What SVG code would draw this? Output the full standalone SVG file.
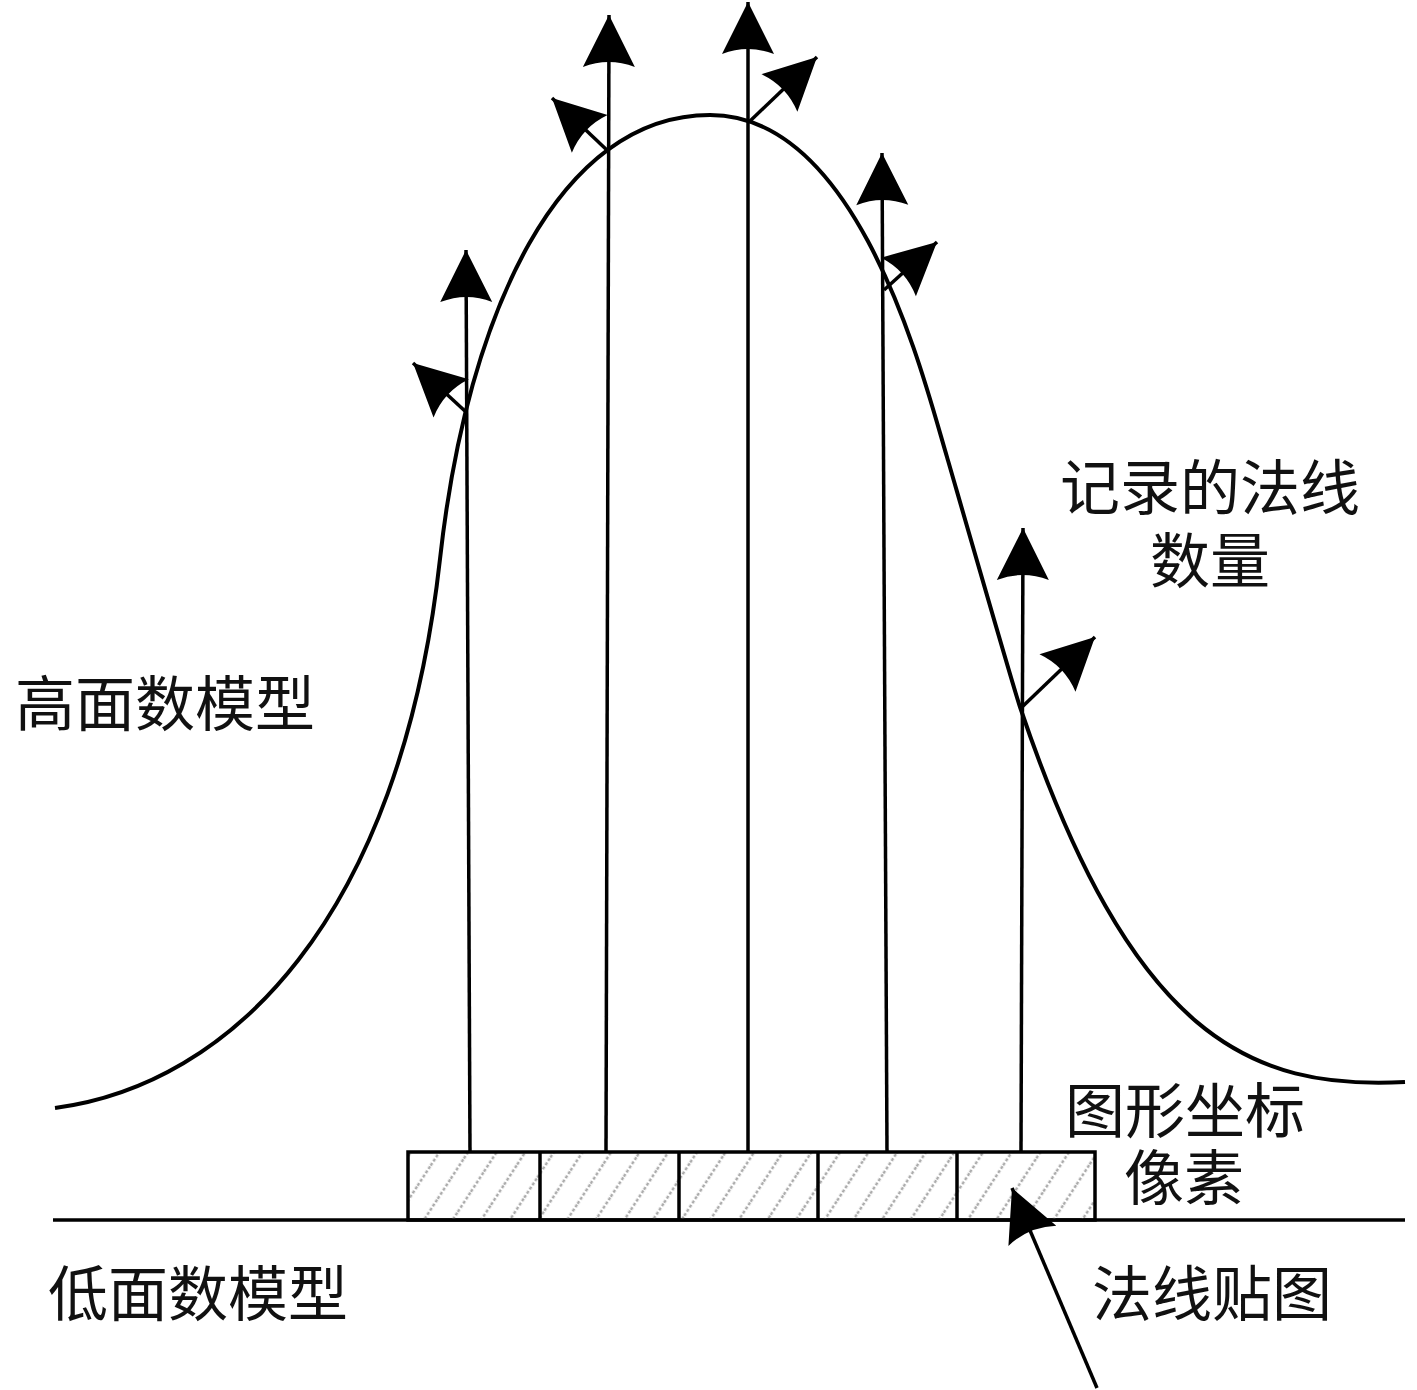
<svg xmlns="http://www.w3.org/2000/svg" width="1417" height="1390" viewBox="0 0 1417 1390">
  <style>
    .ln { stroke: #000; stroke-width: 3.5; fill: none; }
    .arr { stroke: #000; stroke-width: 3.5; fill: none; marker-end: url(#head); }
    .curve { stroke: #000; stroke-width: 4; fill: none; }
    .lbl { font-family: "Noto Sans CJK SC", "Noto Sans", sans-serif; font-size: 60px; fill: #111; }
    .mid { text-anchor: middle; }
  </style>
  <defs>
    <marker id="head" markerUnits="userSpaceOnUse" markerWidth="60" markerHeight="60" refX="52" refY="30" orient="auto" overflow="visible">
      <path d="M52,30 L0,4 Q10,30 0,56 Z" fill="#000"/>
    </marker>
    <pattern id="hatch" patternUnits="userSpaceOnUse" width="24" height="24" patternTransform="rotate(33)">
      <line x1="12" y1="0" x2="12" y2="24" stroke="#acacac" stroke-width="2.5" stroke-dasharray="3 2"/>
    </pattern>
  </defs>
  <rect width="1417" height="1390" fill="#fff"/>

  <g id="high-poly-curve">
    <path class="curve" d="M55,1108 C230,1085 400,920 440,559 C467.5,310.5 560,115 710,115 C860,115 924,380 947,457 C954,481 1012,683 1020,707 C1132,1038 1250,1090 1405,1082"/>
  </g>

  <g id="low-poly-baseline">
    <line class="ln" x1="53" y1="1220" x2="1405" y2="1220"/>
  </g>

  <g id="normal-map-pixels">
    <rect x="408" y="1152" width="687" height="68" fill="url(#hatch)" stroke="#000" stroke-width="3.5"/>
    <line class="ln" x1="540" y1="1152" x2="540" y2="1220"/>
    <line class="ln" x1="679" y1="1152" x2="679" y2="1220"/>
    <line class="ln" x1="818" y1="1152" x2="818" y2="1220"/>
    <line class="ln" x1="957" y1="1152" x2="957" y2="1220"/>
  </g>

  <g id="connectors">
    <line class="arr" x1="470" y1="1152" x2="466" y2="250"/>
    <line class="arr" x1="606" y1="1152" x2="609" y2="15"/>
    <line class="arr" x1="748" y1="1152" x2="748" y2="2"/>
    <line class="arr" x1="887" y1="1152" x2="882" y2="153"/>
    <line class="arr" x1="1021" y1="1152" x2="1023" y2="528"/>
    <line class="arr" x1="466" y1="412" x2="413" y2="363"/>
    <line class="arr" x1="609" y1="152" x2="552" y2="98"/>
    <line class="arr" x1="749" y1="122" x2="817" y2="57"/>
    <line class="arr" x1="884" y1="290" x2="937" y2="242"/>
    <line class="arr" x1="1021" y1="708" x2="1095" y2="637"/>
    <line class="arr" x1="1097" y1="1388" x2="1012" y2="1188"/>
  </g>

  <g id="label-high-poly"><text class="lbl" x="15" y="726">高面数模型</text></g>
  <g id="label-recorded-normals"><text class="lbl mid" x="1210" y="510">记录的法线</text><text class="lbl mid" x="1210" y="583">数量</text></g>
  <g id="label-texel"><text class="lbl mid" x="1185" y="1133">图形坐标</text><text class="lbl mid" x="1184" y="1200">像素</text></g>
  <g id="label-low-poly"><text class="lbl" x="48" y="1316">低面数模型</text></g>
  <g id="label-normal-map"><text class="lbl mid" x="1212" y="1316">法线贴图</text></g>
</svg>
